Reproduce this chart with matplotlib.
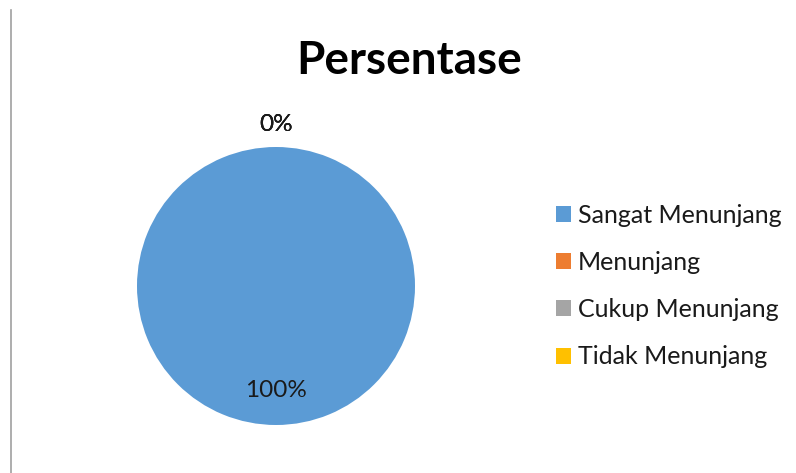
import numpy as np
import matplotlib
matplotlib.use('Agg')
import matplotlib.pyplot as plt
from matplotlib.lines import Line2D

# data
kategori = ['Sangat Menunjang', 'Menunjang', 'Cukup Menunjang', 'Tidak Menunjang']
persen = [100, 0, 0, 0]
warna = ['#5B9BD5', '#ED7D31', '#A5A5A5', '#FFC000']
judul = 'Persentase'

plt.rcParams['font.family'] = ['Lato', 'DejaVu Sans']

W, H = 796, 473
fig = plt.figure(figsize=(W / 100, H / 100), dpi=100)

# pie axes: centre ~ (276, 286) px, radius ~139 px
cx, cy, r = 276, 286, 139
ax = fig.add_axes([(cx - r) / W, (H - cy - r) / H, 2 * r / W, 2 * r / H])
wedges, _ = ax.pie(persen, colors=warna, startangle=90, counterclock=False,
                   wedgeprops=dict(linewidth=0))
ax.set_xlim(-1, 1)
ax.set_ylim(-1, 1)
ax.set_aspect('equal')

# data labels: inside for the big slice, outside for the empty ones
for w, p in zip(wedges, persen):
    ang = np.deg2rad((w.theta1 + w.theta2) / 2)
    d = 0.75 if p > 0 else 1.16
    ax.text(d * np.cos(ang), d * np.sin(ang), '{}%'.format(p),
            ha='center', va='center', fontsize=17.5, color='#1a1a1a', clip_on=False)

fig.text(409 / W, 1 - 61 / H, judul, ha='center', va='center',
         fontsize=33, fontweight='bold', color='black')

fig.legend(wedges, kategori, loc='center left', bbox_to_anchor=(533 / W, 1 - 286 / H),
           frameon=False, fontsize=18, handlelength=0.6, handleheight=0.6,
           handletextpad=0.3, labelspacing=0.97, labelcolor='#1a1a1a')

# thin border line on the left
fig.add_artist(Line2D([10.5 / W, 10.5 / W], [0, 1 - 10 / H], color='#A0A0A0', lw=1.2))

fig.savefig('out.png', dpi=100)
